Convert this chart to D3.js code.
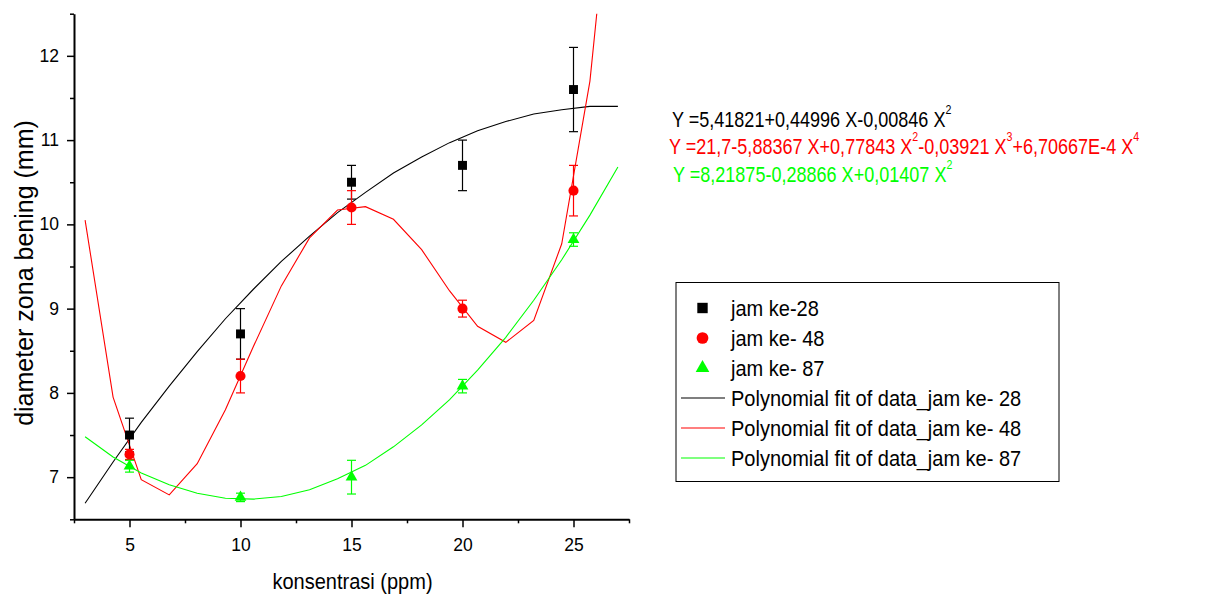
<!DOCTYPE html>
<html>
<head>
<meta charset="utf-8">
<script src="https://cdn.jsdelivr.net/npm/d3@7/dist/d3.min.js"></script>
<style>
body { margin: 0; background: #fff; }
text { font-family: "Liberation Sans", Arial, sans-serif; }
</style>
</head>
<body>
<script>
let concentrations = [5, 10, 15, 20, 25];
let jam28 = [7.5, 8.7, 10.5, 10.7, 11.6];
let jam28Err = [0.2, 0.3, 0.2, 0.3, 0.5];
let jam48 = [7.27, 8.2, 10.2, 9.0, 10.4];
let jam48Err = [0.06, 0.2, 0.2, 0.1, 0.3];
let jam87 = [7.13, 6.76, 7.0, 8.08, 9.82];
let jam87Err = [0.07, 0.05, 0.2, 0.08, 0.08];

let fitX = [3, 4.26, 5.53, 6.79, 8.05, 9.32, 10.58, 11.84, 13.11, 14.37, 15.63, 16.89, 18.16, 19.42, 20.68, 21.95, 23.21, 24.47, 25.74, 27];
let fit28 = [6.69, 7.18, 7.65, 8.08, 8.49, 8.88, 9.23, 9.56, 9.86, 10.14, 10.38, 10.61, 10.8, 10.97, 11.11, 11.22, 11.31, 11.36, 11.4, 11.4];
let fit48 = [10.05, 7.95, 6.97, 6.79, 7.16, 7.8, 8.55, 9.27, 9.84, 10.17, 10.21, 10.06, 9.7, 9.21, 8.79, 8.6, 8.86, 9.77, 11.7, 14.97];
let fit87 = [7.48, 7.24, 7.05, 6.91, 6.81, 6.75, 6.74, 6.77, 6.85, 6.98, 7.14, 7.36, 7.62, 7.92, 8.27, 8.66, 9.1, 9.58, 10.11, 10.68];

let xMajor = [5, 10, 15, 20, 25];
let xMinor = [2.5, 7.5, 12.5, 17.5, 22.5, 27.5];
let yMajor = [7, 8, 9, 10, 11, 12];
let yMinor = [6.5, 7.5, 8.5, 9.5, 10.5, 11.5, 12.5];

let xTitle = 'konsentrasi (ppm)';
let yTitle = 'diameter zona bening (mm)';

let legendLabels = ['jam ke-28', 'jam ke- 48', 'jam ke- 87',
    'Polynomial fit of data_jam ke- 28', 'Polynomial fit of data_jam ke- 48', 'Polynomial fit of data_jam ke- 87'];

// equation text pieces: [text, superscript?]
let eq28 = [['Y =5,41821+0,44996 X-0,00846 X', false], ['2', true]];
let eq48 = [['Y =21,7-5,88367 X+0,77843 X', false], ['2', true], ['-0,03921 X', false], ['3', true], ['+6,70667E-4 X', false], ['4', true]];
let eq87 = [['Y =8,21875-0,28866 X+0,01407 X', false], ['2', true]];

let colors = ['#000000', '#ff0000', '#00ff00'];

let width = 1214, height = 599;
let plot = {left: 74, right: 629, top: 13.7, bottom: 519.3};

let svg = d3.select('body').append('svg')
    .attr('width', width)
    .attr('height', height);

let x = d3.scaleLinear().domain([2.5, 27.5]).range([plot.left, plot.right]);
let y = d3.scaleLinear().domain([6.5, 12.5]).range([plot.bottom, plot.top]);

svg.append('defs').append('clipPath').attr('id', 'clip')
    .append('rect')
    .attr('x', plot.left).attr('y', plot.top)
    .attr('width', plot.right - plot.left).attr('height', plot.bottom - plot.top);

// axes
let gx = svg.append('g').attr('transform', 'translate(0,' + plot.bottom + ')');
gx.call(d3.axisBottom(x).tickValues(xMajor).tickSize(8).tickSizeOuter(0).tickPadding(11).tickFormat(d3.format('d')));
gx.append('g').call(d3.axisBottom(x).tickValues(xMinor).tickSize(4).tickFormat(''))
    .select('.domain').remove();

let gy = svg.append('g').attr('transform', 'translate(' + plot.left + ',0)');
gy.call(d3.axisLeft(y).tickValues(yMajor).tickSize(7).tickSizeOuter(0).tickPadding(8).tickFormat(d3.format('d')));
gy.append('g').call(d3.axisLeft(y).tickValues(yMinor).tickSize(4).tickFormat(''))
    .select('.domain').remove();

svg.selectAll('.domain').attr('stroke', '#000').attr('stroke-width', 2);
svg.selectAll('.tick line').attr('stroke', '#000').attr('stroke-width', 1.5);
svg.selectAll('.tick text').attr('fill', '#000').style('font-size', '17.5px')
    .style('font-family', '"Liberation Sans", Arial, sans-serif');

svg.append('text')
    .attr('transform', 'translate(' + ((plot.left + plot.right) / 2 + 1) + ',589) scale(0.91,1)')
    .attr('text-anchor', 'middle')
    .style('font-size', '22px')
    .text(xTitle);

svg.append('text')
    .attr('transform', 'translate(33,273) rotate(-90)')
    .attr('text-anchor', 'middle')
    .style('font-size', '25px')
    .text(yTitle);

// fit curves
let line = d3.line().x(d => x(d[0])).y(d => y(d[1]));
let fits = [fit28, fit48, fit87];
let curves = svg.append('g').attr('clip-path', 'url(#clip)');
fits.forEach((f, i) => {
    curves.append('path')
        .datum(fitX.map((v, j) => [v, f[j]]))
        .attr('d', line)
        .attr('fill', 'none')
        .attr('stroke', colors[i])
        .attr('stroke-width', 1.1);
});

// data points with error bars
let series = [
    {vals: jam28, err: jam28Err, symbol: d3.symbolSquare, size: 80},
    {vals: jam48, err: jam48Err, symbol: d3.symbolCircle, size: 80},
    {vals: jam87, err: jam87Err, symbol: d3.symbolTriangle, size: 60}
];

series.forEach((s, i) => {
    let g = svg.append('g');
    let pts = concentrations.map((c, j) => ({c: c, v: s.vals[j], e: s.err[j]}));
    let bars = g.selectAll('.err').data(pts).enter().append('g')
        .attr('stroke', colors[i]).attr('stroke-width', 1.2);
    bars.append('line')
        .attr('x1', d => x(d.c)).attr('x2', d => x(d.c))
        .attr('y1', d => y(d.v - d.e)).attr('y2', d => y(d.v + d.e));
    bars.append('line')
        .attr('x1', d => x(d.c) - 4.5).attr('x2', d => x(d.c) + 4.5)
        .attr('y1', d => y(d.v + d.e)).attr('y2', d => y(d.v + d.e));
    bars.append('line')
        .attr('x1', d => x(d.c) - 4.5).attr('x2', d => x(d.c) + 4.5)
        .attr('y1', d => y(d.v - d.e)).attr('y2', d => y(d.v - d.e));
    g.selectAll('.pt').data(pts).enter().append('path')
        .attr('transform', d => 'translate(' + x(d.c) + ',' + y(d.v) + ')')
        .attr('d', d3.symbol().type(s.symbol).size(s.size))
        .attr('fill', colors[i]);
});

// equations
let eqs = [eq28, eq48, eq87];
let eqPos = [[672, 126.7], [669, 154], [673, 181.7]];
eqs.forEach((eq, i) => {
    let t = svg.append('text')
        .attr('transform', 'translate(' + eqPos[i][0] + ',' + eqPos[i][1] + ') scale(0.82,1)')
        .attr('fill', colors[i])
        .style('font-size', '22px');
    let raised = false;
    eq.forEach(part => {
        let ts = t.append('tspan').text(part[0]);
        if (part[1]) {
            ts.attr('dy', -13).style('font-size', '13px');
            raised = true;
        } else if (raised) {
            ts.attr('dy', 13);
            raised = false;
        }
    });
});

// legend
let legend = svg.append('g');
legend.append('rect')
    .attr('x', 676).attr('y', 282.5)
    .attr('width', 383).attr('height', 199)
    .attr('fill', 'none').attr('stroke', '#000').attr('stroke-width', 1);

let rowY = d3.range(legendLabels.length).map(i => 308 + i * 30);
legendLabels.forEach((lab, i) => {
    let cy = rowY[i];
    if (i < 3) {
        legend.append('path')
            .attr('transform', 'translate(702.5,' + cy + ')')
            .attr('d', d3.symbol().type(series[i].symbol).size(series[i].size * 1.35))
            .attr('fill', colors[i]);
    } else {
        legend.append('line')
            .attr('x1', 681).attr('x2', 725)
            .attr('y1', cy).attr('y2', cy)
            .attr('stroke', colors[i - 3]).attr('stroke-width', 1.1);
    }
    legend.append('text')
        .attr('transform', 'translate(731,' + (cy + 7.5) + ') scale(0.91,1)')
        .style('font-size', '22px')
        .text(lab);
});
</script>
</body>
</html>
